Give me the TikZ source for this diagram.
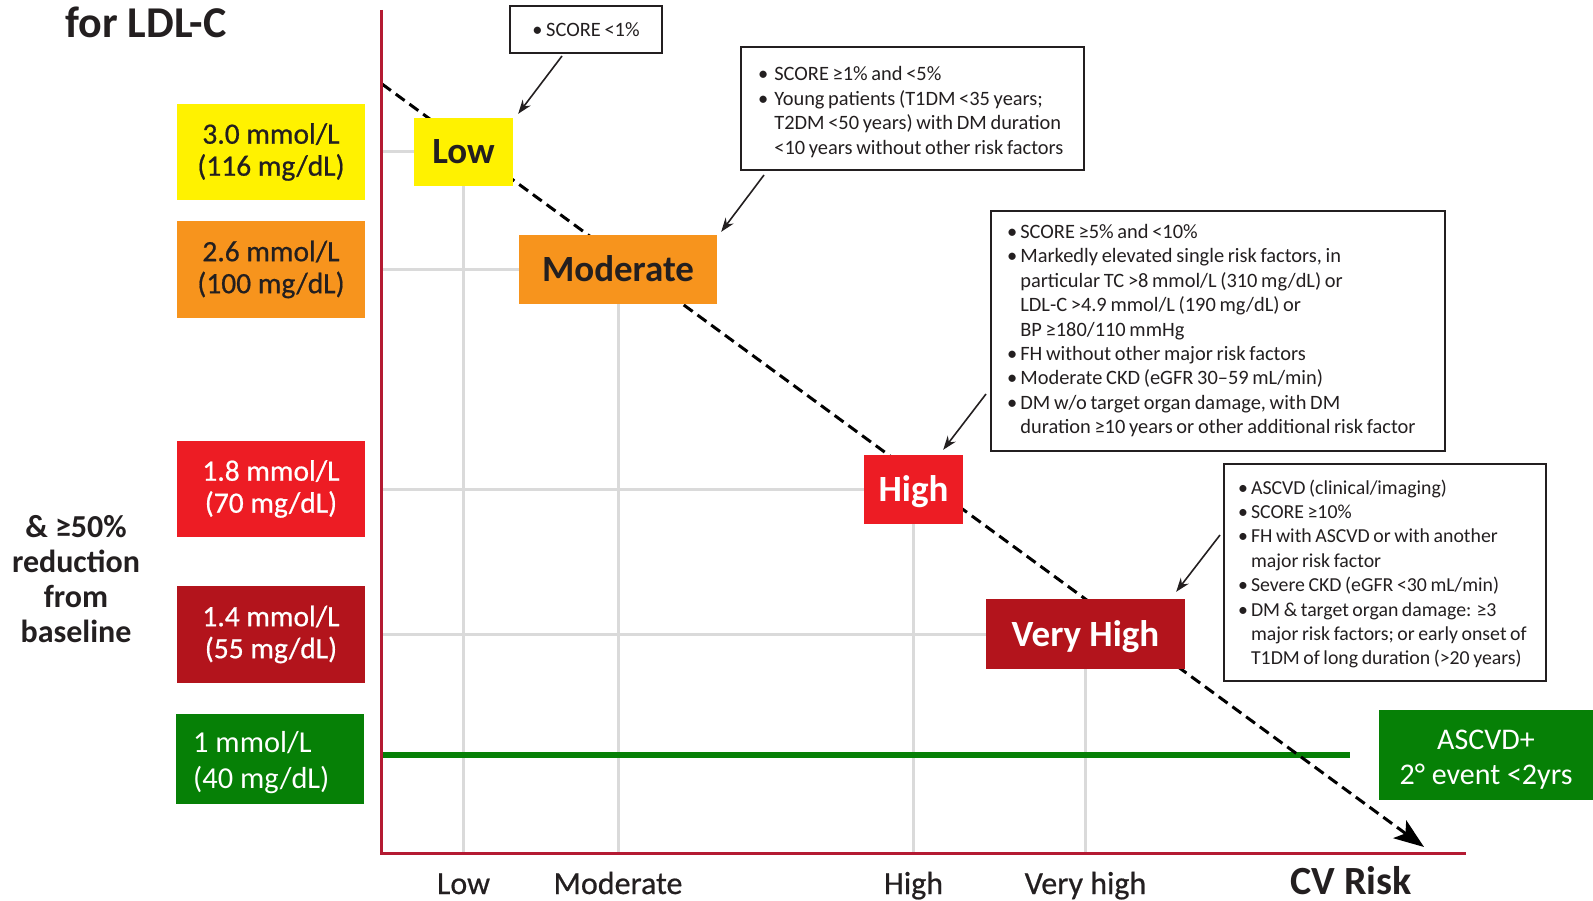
\documentclass[tikz,border=0pt]{standalone}
\usepackage{fontspec}
\setmainfont{Carlito}
\newfontfamily\medfont{Carlito}[FakeBold=0.6]
\newfontfamily\callfont{Carlito}[WordSpace=0.8]
\usetikzlibrary{arrows.meta}
\definecolor{cyel}{HTML}{FFF200}
\definecolor{corg}{HTML}{F7941D}
\definecolor{cred}{HTML}{ED1C24}
\definecolor{cdred}{HTML}{B3141C}
\definecolor{cgrn}{HTML}{068006}
\definecolor{caxis}{HTML}{B41A32}
\definecolor{cgrid}{HTML}{DADADA}
\definecolor{ctxt}{HTML}{231F20}
\begin{document}
\begin{tikzpicture}[x=1pt,y=-1pt,
  every node/.style={text=ctxt},
  valbox/.style={rectangle, minimum width=188pt, minimum height=96pt, inner sep=0pt, align=center, font=\medfont\fontsize{29.5}{32}\selectfont},
  riskbox/.style={rectangle, inner sep=0pt, font=\bfseries\fontsize{37}{40}\selectfont, text height=24pt, text depth=0pt},
  callout/.style={draw=ctxt, line width=1.6pt, rectangle, inner sep=0pt, fill=white},
  calltext/.style={anchor=base west, inner sep=0pt, align=left, font=\callfont\fontsize{20.4}{24.4}\selectfont},
  callarrow/.style={draw=ctxt, line width=1.6pt, -{Stealth[length=14pt,width=10pt]}},
  gridline/.style={draw=cgrid, line width=3pt},
  axisline/.style={draw=caxis, line width=3pt},
  axislabel/.style={anchor=base, inner sep=0pt, font=\medfont\fontsize{32}{34}\selectfont},
  headlabel/.style={font=\bfseries\fontsize{32}{35}\selectfont, align=center},
  greenbox/.style={fill=cgrn, text=white, inner sep=0pt, font=\fontsize{30.4}{36}\selectfont},
]
\useasboundingbox (0,0) rectangle (1593,901);

% axis coordinates
\coordinate (origin) at (381,853);
\coordinate (ytop) at (381,10);
\coordinate (xend) at (1466,853);

% risk box positions
\path
  node[riskbox, minimum width=99pt, minimum height=68pt] (rLow) at (463.5,152) {}
  node[riskbox, minimum width=198pt, minimum height=69pt] (rMod) at (618,269.5) {}
  node[riskbox, minimum width=99pt, minimum height=69pt] (rHigh) at (913.5,489.5) {}
  node[riskbox, minimum width=199pt, minimum height=70pt] (rVH) at (1085.5,634) {};

% grid lines
\draw[gridline] (origin |- rLow.west) -- (rLow.west);
\draw[gridline] (origin |- rMod.west) -- (rMod.west);
\draw[gridline] (origin |- rHigh.west) -- (rHigh.west);
\draw[gridline] (origin |- rVH.west) -- (rVH.west);
\draw[gridline] (rLow.south) -- (rLow.south |- origin);
\draw[gridline] (rMod.south) -- (rMod.south |- origin);
\draw[gridline] (rHigh.south) -- (rHigh.south |- origin);
\draw[gridline] (rVH.south) -- (rVH.south |- origin);

% green target line
\coordinate (g1) at (382,755);
\coordinate (g2) at (1350,755);
\draw[draw=cgrn, line width=6pt] (g1) -- (g2);

% dashed risk arrow
\coordinate (dstart) at (382,84);
\coordinate (dend) at (1424,847);
\draw[line width=3pt, dash pattern=on 11pt off 6pt, -{Stealth[length=30pt,width=22pt,inset=7pt]}] (dstart) -- (dend);

% axes
\draw[axisline] (ytop) -- (origin) -- (xend);

% risk boxes
\node[riskbox, fill=cyel, minimum width=99pt, minimum height=68pt] at (rLow) {Low};
\node[riskbox, fill=corg, minimum width=198pt, minimum height=69pt] at (rMod) {Moderate};
\node[riskbox, fill=cred, minimum width=99pt, minimum height=69pt, text=white] at (rHigh) {High};
\node[riskbox, fill=cdred, minimum width=199pt, minimum height=70pt, text=white] at (rVH) {Very High};

% title fragment
\node[font=\bfseries\fontsize{44}{46}\selectfont] (title) at (146,22) {for LDL-C};

% value boxes
\node[valbox, fill=cyel] (v1) at (271,152) {3.0 mmol/L\\(116 mg/dL)};
\node[valbox, fill=corg, minimum height=97pt] (v2) at (271,269.5) {2.6 mmol/L\\(100 mg/dL)};
\node[valbox, fill=cred, text=white] (v3) at (271,489) {1.8 mmol/L\\(70 mg/dL)};
\node[valbox, fill=cdred, text=white, minimum height=97pt] (v4) at (271,634.5) {1.4 mmol/L\\(55 mg/dL)};
\node[greenbox, minimum width=188pt, minimum height=90pt] (v5) at (270,759) {};
\node[anchor=base west, inner sep=0pt, text=white, align=left, font=\fontsize{30.4}{36}\selectfont] (v5t) at (193,788) {1 mmol/L\\(40 mg/dL)};

% side text
\node[headlabel] (reduc) at (76,579) {\&\ ≥50\%\\reduction\\from\\baseline};

% ASCVD box
\node[greenbox, minimum width=214pt, minimum height=90pt, align=center, text height=58pt, text depth=0pt, font=\fontsize{30}{35}\selectfont] (ascvd) at (1486,755) {ASCVD+\\2° event <2yrs};

% axis labels
\node[axislabel] (lLow) at (463.5,894) {Low};
\node[axislabel] (lMod) at (618,894) {Moderate};
\node[axislabel] (lHigh) at (913.5,894) {High};
\node[axislabel] (lVH) at (1085.5,894) {Very high};
\node[anchor=base, inner sep=0pt, font=\bfseries\fontsize{40}{42}\selectfont] (lCV) at (1351,894) {CV Risk};

% callout boxes
\node[callout, minimum width=152pt, minimum height=47pt, align=center, font=\callfont\fontsize{20.4}{24.4}\selectfont] (c1) at (586,29.5) {• SCORE <1\%};
\node[callout, minimum width=343pt, minimum height=123pt] (c2) at (912.5,108.5) {};
\node[callout, minimum width=454pt, minimum height=240pt] (c3) at (1218,331) {};
\node[callout, minimum width=322pt, minimum height=217pt] (c4) at (1385,572.5) {};

% callout texts
\node[calltext] (c2t) at (758,81) {%
\begin{tabular}[t]{@{}l@{\hspace{6pt}}l@{}}
• & SCORE ≥1\% and <5\%\\
• & Young patients (T1DM <35 years;\\
  & T2DM <50 years) with DM duration\\
  & <10 years without other risk factors
\end{tabular}};
\node[calltext] (c3t) at (1007,238.5) {%
\begin{tabular}[t]{@{}l@{\hspace{3pt}}l@{}}
• & SCORE ≥5\% and <10\%\\
• & Markedly elevated single risk factors, in\\
  & particular TC >8 mmol/L (310 mg/dL) or\\
  & LDL-C >4.9 mmol/L (190 mg/dL) or\\
  & BP ≥180/110 mmHg\\
• & FH without other major risk factors\\
• & Moderate CKD (eGFR 30–59 mL/min)\\
• & DM w/o target organ damage, with DM\\
  & duration ≥10 years or other additional risk factor
\end{tabular}};
\node[calltext, font=\callfont\fontsize{19.8}{24.4}\selectfont] (c4t) at (1238,494) {%
\begin{tabular}[t]{@{}l@{\hspace{3pt}}l@{}}
• & ASCVD (clinical/imaging)\\
• & SCORE ≥10\%\\
• & FH with ASCVD or with another\\
  & major risk factor\\
• & Severe CKD (eGFR <30 mL/min)\\
• & DM \& target organ damage: ≥3\\
  & major risk factors; or early onset of\\
  & T1DM of long duration (>20 years)
\end{tabular}};

% callout arrows
\coordinate (a1s) at (562,56);
\coordinate (a2s) at (764,175);
\coordinate (a3s) at (986,394);
\coordinate (a4s) at (1220,535);
\draw[callarrow] (a1s) -- ([shift={(5,-4)}]rLow.north east);
\draw[callarrow] (a2s) -- ([shift={(4,-3)}]rMod.north east);
\draw[callarrow] (a3s) -- ([shift={(-20,-5)}]rHigh.north east);
\draw[callarrow] (a4s) -- ([shift={(-9,-7)}]rVH.north east);
\end{tikzpicture}
\end{document}
